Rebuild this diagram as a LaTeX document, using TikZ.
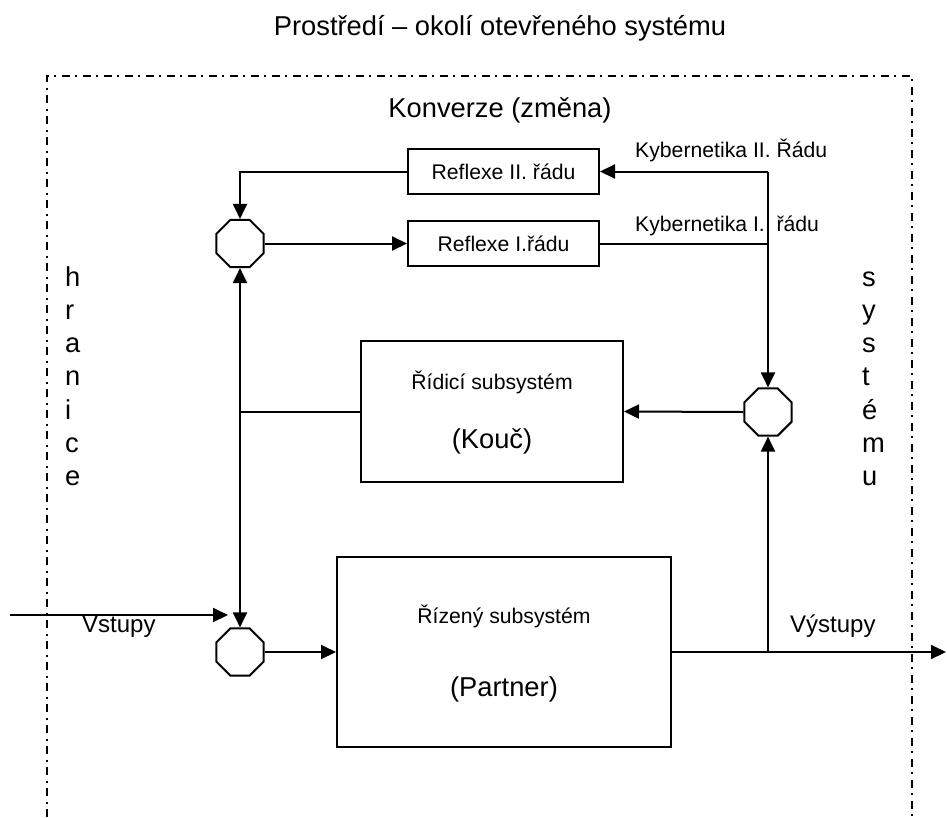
\documentclass[tikz,border=0pt]{standalone}
\usepackage{fontspec}
\setmainfont{Liberation Sans}
\usetikzlibrary{shapes.geometric,arrows.meta,positioning,calc}

\begin{document}
\begin{tikzpicture}[x=1pt, y=-1pt,
  big/.style={font=\fontsize{27.3}{33}\selectfont},
  mid/.style={font=\fontsize{24}{29}\selectfont},
  small/.style={font=\fontsize{21.2}{25}\selectfont},
  box/.style={draw, line width=2pt, inner sep=0pt, small},
  oct/.style={draw, line width=2pt, regular polygon, regular polygon sides=8, minimum size=51pt, inner sep=0pt},
  arr/.style={-{Triangle[length=15pt, width=14pt]}, line width=2pt},
  ln/.style={line width=2pt},
  bound/.style={line width=2pt, dash pattern=on 8pt off 5pt on 2pt off 6pt}
]
\useasboundingbox (0,0) rectangle (947,817);

\node[big, anchor=base] (title) at (500,35) {Prostředí – okolí otevřeného systému};
\draw[bound] (47,817) -- (47,76) -- (912,76) -- (912,817);
\node[big, anchor=base] (konv) at (500,117) {Konverze (změna)};

\foreach \ch [count=\i] in {h,r,a,n,i,c,e}
  \node[big, anchor=base west, inner sep=0pt] (hr\i) at (65,{286+33.3*(\i-1)}) {\ch};
\foreach \ch [count=\i] in {s,y,s,t,é,m,u}
  \node[big, anchor=base west, inner sep=0pt] (sy\i) at (862,{286+33.3*(\i-1)}) {\ch};

\node[box, minimum width=191pt, minimum height=45pt] (refl2) at (503.5,171.5) {Reflexe II. řádu};
\node[box, minimum width=191pt, minimum height=45pt] (refl1) at (503.5,243.5) {Reflexe I.řádu};
\node[box, minimum width=262pt, minimum height=141pt] (ctrl) at (492,411.5) {};
\node[small, anchor=base] (ctrlname) at (492,389) {Řídicí subsystém};
\node[big, anchor=base] (ctrlrole) at (492,448) {(Kouč)};
\node[box, minimum width=334pt, minimum height=190pt] (ctrd) at (504,652) {};
\node[small, anchor=base] (ctrdname) at (504,623) {Řízený subsystém};
\node[big, anchor=base] (ctrdrole) at (504,696) {(Partner)};

\node[oct] (oct1) at (240,243.5) {};
\node[oct] (oct2) at (768,412) {};
\node[oct] (oct3) at (240,652) {};

\node[small, anchor=base west, inner sep=0pt] (kyb2lbl) at (635,157) {Kybernetika II. Řádu};
\node[small, anchor=base west, inner sep=0pt] (kyb1lbl) at (635,231) {Kybernetika I.\ \ řádu};
\node[mid, anchor=base west, inner sep=0pt] (vstlbl) at (82,632) {Vstupy};
\node[mid, anchor=base west, inner sep=0pt] (vystlbl) at (790,632) {Výstupy};

\coordinate (kyb) at (768,171.5);
\coordinate (vst) at (10,615);
\coordinate (vstend) at (228,615);
\coordinate (vyst) at (946,652);
\coordinate (jctl) at (ctrl.west -| oct1);
\coordinate (jout) at (ctrd.east -| oct2);

\draw[arr] (refl2.west) -| (oct1.north);
\draw[arr] (oct1.east) -- (refl1.west);
\draw[arr] (kyb) -- (refl2.east);
\draw[ln] (refl1.east) -- (refl1.east -| kyb);
\draw[arr] (kyb) -- (oct2.north);
\draw[arr] (oct2.west) -- (ctrl.east);
\draw[ln] (ctrl.west) -- (jctl);
\draw[arr] (jctl) -- (oct1.south);
\draw[arr] (jctl) -- (oct3.north);
\draw[arr] (vst) -- (vstend);
\draw[arr] (oct3.east) -- (ctrd.west);
\draw[arr] (ctrd.east) -- (vyst);
\draw[arr] (jout) -- (oct2.south);

\end{tikzpicture}
\end{document}
